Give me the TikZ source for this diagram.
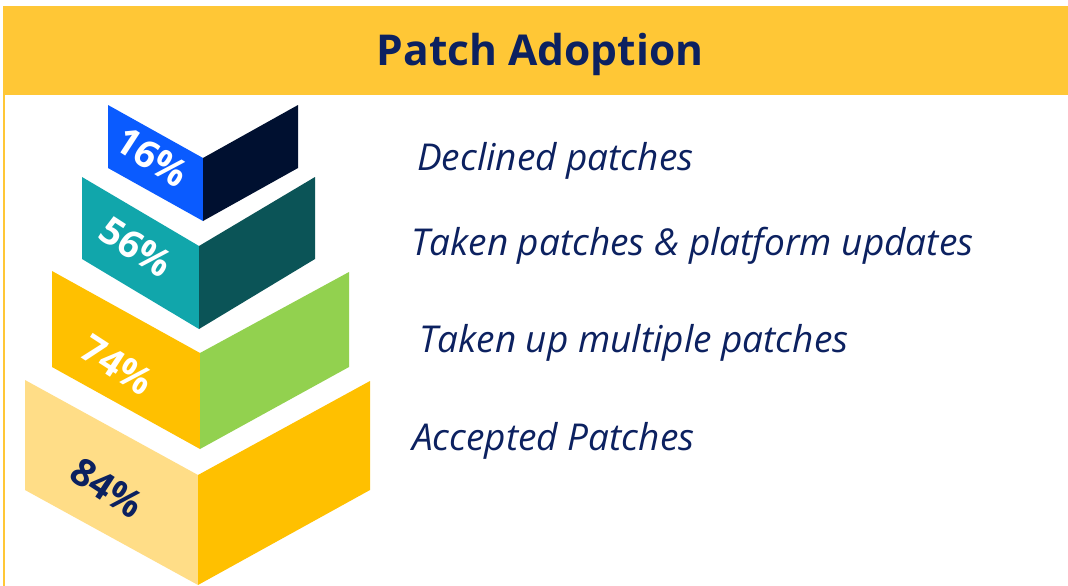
\documentclass[tikz,border=0pt]{standalone}
\usepackage{fontspec}
\setmainfont{Open Sans}
\definecolor{barY}{HTML}{FFC736}
\definecolor{navy}{HTML}{0C2160}
\definecolor{blueL}{HTML}{0A5BFF}
\definecolor{blueR}{HTML}{001030}
\definecolor{tealL}{HTML}{11A6AB}
\definecolor{tealR}{HTML}{0B5457}
\definecolor{goldL}{HTML}{FFC000}
\definecolor{greenR}{HTML}{92D14F}
\definecolor{paleL}{HTML}{FFDD87}
\definecolor{goldR}{HTML}{FFC000}
\tikzset{
  pct/.style={font=\fontsize{38}{38}\selectfont\bfseries, inner sep=0pt, rotate=-33},
  lbl/.style={font=\fontsize{37}{40}\selectfont\itshape, text=navy, inner sep=0pt, anchor=base west},
}
\begin{document}
\begin{tikzpicture}[x=1pt,y=-1pt]
\useasboundingbox (0,0) rectangle (1068,586);
\fill[white] (0,0) rectangle (1068,586);
% title bar and left border
\fill[barY] (3,6) rectangle (1068,95);
\draw[barY, line width=1.5pt] (4,95) -- (4,586);
\node[font=\fontsize{42.5}{42}\selectfont\bfseries, text=navy, inner sep=0pt, anchor=base] (title) at (540,66) {Patch Adoption};
% block 4
\fill[paleL] (25,380) -- (198,475) -- (198,585) -- (25,490) -- cycle;
\fill[goldR] (198,475) -- (370,381) -- (370,490) -- (198,585) -- cycle;
% block 3
\fill[goldL] (52,271) -- (200,353) -- (200,449) -- (52,367) -- cycle;
\fill[greenR] (200,353) -- (349,272) -- (349,367) -- (200,449) -- cycle;
% block 2
\fill[tealL] (82,177) -- (199,246) -- (199,329) -- (82,259) -- cycle;
\fill[tealR] (199,246) -- (315,177) -- (315,259) -- (199,329) -- cycle;
% block 1
\fill[blueL] (108,105) -- (203,158) -- (203,221) -- (108,168) -- cycle;
\fill[blueR] (203,158) -- (298,105) -- (298,168) -- (203,221) -- cycle;
% percentages
\node[pct, text=white] (p16) at (152,157) {16\%};
\node[pct, text=white] (p56) at (136,247) {56\%};
\node[pct, text=white] (p74) at (117,365) {74\%};
\node[pct, text=navy] (p84) at (107,488) {84\%};
% labels
\node[lbl] (l1) at (417,170) {Declined patches};
\node[lbl] (l2) at (411,255) {Taken patches \& platform updates};
\node[lbl] (l3) at (419,352) {Taken up multiple patches};
\node[lbl] (l4) at (412,450) {Accepted Patches};
\end{tikzpicture}
\end{document}
